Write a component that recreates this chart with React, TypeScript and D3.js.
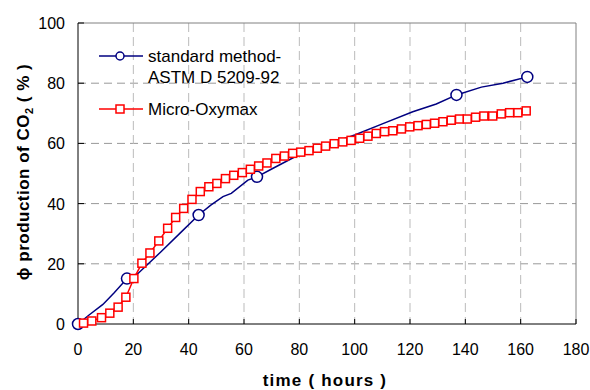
import React from "react";
import * as d3 from "d3";

// standard method (ASTM D 5209-92): traced line and the marked samples
const stdLineTime = [0, 4, 9, 13, 17.7, 21.7, 30, 36.8, 43.6, 48, 52.4, 55.4, 61.4, 64.7, 70, 80, 90, 100, 110, 121, 129.5, 136.8, 145.8, 153.6, 162.4];
const stdLineValue = [0, 3, 6.5, 10.3, 15.1, 16.8, 24, 30.1, 36.2, 39.5, 42.3, 43.4, 47.8, 48.9, 51.5, 56.3, 59.6, 62.8, 66.5, 70.5, 73.1, 76.1, 78.7, 80.0, 82.1];
const stdMarkTime = [0, 17.7, 43.6, 64.7, 136.8, 162.4];
const stdMarkValue = [0, 15.1, 36.2, 48.9, 76.1, 82.1];

// Micro-Oxymax, one sample about every 3 hours
const oxyTime = [2, 5, 8.5, 11.5, 14.5, 17.3, 20.2, 23.1, 26, 29.2, 32.4, 35.3, 38.2, 41.2, 44.2, 47.3, 50.2, 53.3, 56.3, 59.4, 62.3, 65.3, 68.3, 71.5, 74.6, 77.6, 80.5, 83.5, 86.5, 89.5, 92.6, 95.7, 98.7, 101.8, 104.8, 107.8, 110.8, 113.8, 116.9, 119.9, 122.9, 125.9, 128.9, 131.9, 134.9, 137.9, 140.7, 143.7, 146.7, 149.9, 153, 156, 159, 162];
const oxyValue = [0.3, 1.0, 2.1, 3.6, 5.6, 8.9, 15.1, 20.2, 23.6, 27.6, 31.8, 35.4, 38.4, 41.4, 44.0, 45.6, 46.7, 48.3, 49.4, 50.3, 51.4, 52.5, 53.5, 55.0, 55.8, 56.7, 57.1, 57.6, 58.4, 59.1, 59.9, 60.5, 61.0, 61.7, 62.4, 63.3, 63.9, 64.2, 64.8, 65.5, 65.9, 66.3, 66.7, 67.2, 67.7, 68.1, 68.1, 68.7, 69.1, 69.1, 69.8, 70.2, 70.2, 70.8];

const xTicks = [0, 20, 40, 60, 80, 100, 120, 140, 160, 180];
const yTicks = [0, 20, 40, 60, 80, 100];

const font = "Arial, 'Liberation Sans', sans-serif";
const blue = "#000080";
const red = "#ff0000";

export default function App() {
  const W = 590;
  const H = 390;
  const left = 78;
  const right = 576;
  const top = 23;
  const bottom = 324;

  const x = d3.scaleLinear().domain([0, 180]).range([left, right]);
  const y = d3.scaleLinear().domain([0, 100]).range([bottom, top]);

  const line = d3
    .line<[number, number]>()
    .x((d) => x(d[0]))
    .y((d) => y(d[1]));

  const stdPts = stdLineTime.map((t, i) => [t, stdLineValue[i]] as [number, number]);
  const oxyPts = oxyTime.map((t, i) => [t, oxyValue[i]] as [number, number]);

  const sq = 8;

  return (
    <svg
      width={W}
      height={H}
      style={{ position: "absolute", left: 0, top: 0, background: "#fff" }}
      fontFamily={font}
    >
      {/* grid */}
      {yTicks
        .filter((t) => t > 0 && t < 100)
        .map((t) => (
          <line key={"gy" + t} x1={left} x2={right} y1={y(t)} y2={y(t)} stroke="#999" strokeDasharray="8,5" />
        ))}
      {xTicks
        .filter((t) => t > 0 && t < 180)
        .map((t) => (
          <line key={"gx" + t} x1={x(t)} x2={x(t)} y1={top} y2={bottom} stroke="#bbb" strokeDasharray="9,5" />
        ))}

      {/* frame */}
      <line x1={left} x2={right} y1={top} y2={top} stroke="#808080" />
      <line x1={right} x2={right} y1={top} y2={bottom} stroke="#808080" />
      <line x1={left} x2={left} y1={top} y2={bottom} stroke="#000" />
      <line x1={left} x2={right} y1={bottom} y2={bottom} stroke="#000" />

      {/* ticks and labels */}
      {xTicks.map((t) => (
        <g key={"xt" + t}>
          <line x1={x(t)} x2={x(t)} y1={bottom} y2={bottom - 5} stroke="#000" />
          <text x={x(t)} y={355} textAnchor="middle" fontSize={16}>
            {t}
          </text>
        </g>
      ))}
      {yTicks.map((t) => (
        <g key={"yt" + t}>
          <line x1={left} x2={left + 6} y1={y(t)} y2={y(t)} stroke="#000" />
          <text x={65} y={y(t) + 6} textAnchor="end" fontSize={16}>
            {t}
          </text>
        </g>
      ))}

      {/* axis titles */}
      <text x={325} y={386} textAnchor="middle" fontSize={17} fontWeight="bold" letterSpacing={1.2}>
        time ( hours )
      </text>
      <text
        transform={`translate(29,172) rotate(-90)`}
        textAnchor="middle"
        fontSize={17}
        fontWeight="bold"
        letterSpacing={0.5}
      >
        ϕ production of CO<tspan fontSize={11} dy={4}>2</tspan>
        <tspan dy={-4}> ( % )</tspan>
      </text>

      {/* standard method */}
      <path d={line(stdPts) || ""} fill="none" stroke={blue} strokeWidth={1.5} />
      {stdMarkTime.map((t, i) => (
        <circle key={"c" + i} cx={x(t)} cy={y(stdMarkValue[i])} r={5.5} fill="#fff" stroke={blue} strokeWidth={1.5} />
      ))}

      {/* Micro-Oxymax */}
      <path d={line(oxyPts) || ""} fill="none" stroke={red} strokeWidth={1.5} />
      {oxyPts.map((d, i) => (
        <rect
          key={"s" + i}
          x={x(d[0]) - sq / 2}
          y={y(d[1]) - sq / 2}
          width={sq}
          height={sq}
          fill="#fff"
          stroke={red}
          strokeWidth={1.5}
        />
      ))}

      {/* legend */}
      <line x1={99} x2={143} y1={56} y2={56} stroke={blue} strokeWidth={1.5} />
      <circle cx={120} cy={56} r={4} fill="#fff" stroke={blue} strokeWidth={1.5} />
      <text x={148} y={62} fontSize={17}>standard method-</text>
      <text x={148} y={83} fontSize={17}>ASTM D 5209-92</text>
      <line x1={99} x2={143} y1={109} y2={109} stroke={red} strokeWidth={1.5} />
      <rect x={120 - sq / 2} y={109 - sq / 2} width={sq} height={sq} fill="#fff" stroke={red} strokeWidth={1.5} />
      <text x={148} y={115} fontSize={17}>Micro-Oxymax</text>
    </svg>
  );
}
